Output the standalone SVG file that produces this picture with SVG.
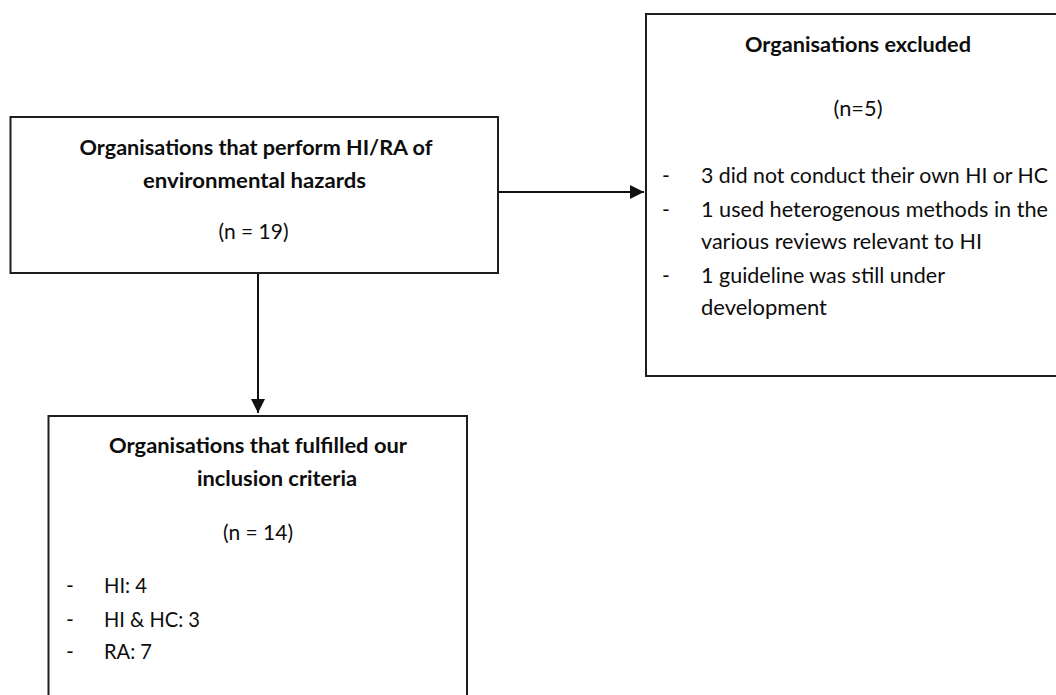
<svg xmlns="http://www.w3.org/2000/svg" width="1056" height="695" viewBox="0 0 1056 695">
<defs>
<style>
.box{fill:#fff;stroke:#1e1e1e;stroke-width:2}
.t{font-family:Lato,"Open Sans","Liberation Sans",sans-serif;font-size:21px;fill:#0d0d0d}
.b{font-weight:bold}
.c{text-anchor:middle}
.edge{stroke:#111;stroke-width:2;fill:none}
</style>
<marker id="ah" viewBox="0 0 14 14" refX="14" refY="7" markerWidth="14" markerHeight="14" markerUnits="userSpaceOnUse" orient="auto">
<path d="M0,0 L14,7 L0,14 Z" fill="#111"/>
</marker>
</defs>
<rect width="1056" height="695" fill="#fff"/>
<g id="connectors">
<line class="edge" x1="498" y1="192" x2="644" y2="192" marker-end="url(#ah)"/>
<line class="edge" x1="258" y1="273" x2="258" y2="413" marker-end="url(#ah)"/>
</g>
<g id="node-performing">
<rect class="box" x="10.5" y="117" width="487.5" height="156"/>
<text class="t b c" x="256" y="155" textLength="353" lengthAdjust="spacingAndGlyphs">Organisations that perform HI/RA of</text>
<text class="t b c" x="254.5" y="188" textLength="223" lengthAdjust="spacingAndGlyphs">environmental hazards</text>
<text class="t c" x="253.5" y="239" textLength="70" lengthAdjust="spacingAndGlyphs">(n = 19)</text>
</g>
<g id="node-excluded">
<rect class="box" x="646" y="14" width="415" height="362"/>
<text class="t b c" x="858" y="52" textLength="226" lengthAdjust="spacingAndGlyphs">Organisations excluded</text>
<text class="t c" x="858" y="116" textLength="49" lengthAdjust="spacingAndGlyphs">(n=5)</text>
<text class="t" x="662" y="183">-</text>
<text class="t" x="701" y="183" textLength="347" lengthAdjust="spacingAndGlyphs">3 did not conduct their own HI or HC</text>
<text class="t" x="662" y="217">-</text>
<text class="t" x="701" y="217" textLength="347" lengthAdjust="spacingAndGlyphs">1 used heterogenous methods in the</text>
<text class="t" x="701" y="249" textLength="281" lengthAdjust="spacingAndGlyphs">various reviews relevant to HI</text>
<text class="t" x="662" y="283">-</text>
<text class="t" x="701" y="283" textLength="244" lengthAdjust="spacingAndGlyphs">1 guideline was still under</text>
<text class="t" x="701" y="315" textLength="126" lengthAdjust="spacingAndGlyphs">development</text>
</g>
<g id="node-included">
<rect class="box" x="48.5" y="416" width="418.5" height="290"/>
<text class="t b" x="109" y="453" textLength="298" lengthAdjust="spacingAndGlyphs">Organisations that fulfilled our</text>
<text class="t b" x="197" y="486" textLength="160" lengthAdjust="spacingAndGlyphs">inclusion criteria</text>
<text class="t" x="223" y="540" textLength="70" lengthAdjust="spacingAndGlyphs">(n = 14)</text>
<text class="t" x="66" y="593">-</text>
<text class="t" x="104" y="593" textLength="43" lengthAdjust="spacingAndGlyphs">HI: 4</text>
<text class="t" x="66" y="627">-</text>
<text class="t" x="104" y="627" textLength="96" lengthAdjust="spacingAndGlyphs">HI &amp; HC: 3</text>
<text class="t" x="66" y="659">-</text>
<text class="t" x="104" y="659" textLength="48" lengthAdjust="spacingAndGlyphs">RA: 7</text>
</g>
</svg>
